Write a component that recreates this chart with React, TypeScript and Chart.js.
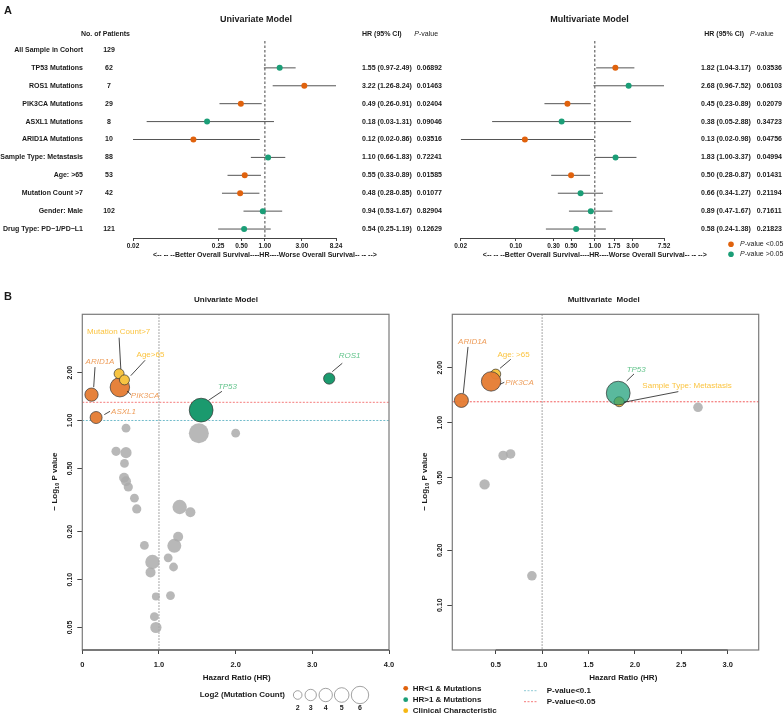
import React, { useEffect, useRef } from 'react';
import { Chart, registerables } from 'chart.js';

Chart.register(...registerables);

const FONT = '"Liberation Sans", Arial, Helvetica, sans-serif';
Chart.defaults.font.family = FONT;

// ---------------- Panel A : forest plots ----------------
const rowLabels = [
  'All Sample in Cohort', 'TP53 Mutations', 'ROS1 Mutations', 'PIK3CA Mutations', 'ASXL1 Mutations',
  'ARID1A Mutations', 'Sample Type: Metastasis', 'Age: >65', 'Mutation Count >7', 'Gender: Male',
  'Drug Type: PD\u22121/PD\u2212L1',
];
const patientCounts = [129, 62, 7, 29, 8, 10, 88, 53, 42, 102, 121];

const uniHR = [null, 1.55, 3.22, 0.49, 0.18, 0.12, 1.10, 0.55, 0.48, 0.94, 0.54];
const uniLo = [null, 0.97, 1.26, 0.26, 0.03, 0.02, 0.66, 0.33, 0.28, 0.53, 0.25];
const uniHi = [null, 2.49, 8.24, 0.91, 1.31, 0.86, 1.83, 0.89, 0.85, 1.67, 1.19];
const uniP = [null, 0.06892, 0.01463, 0.02404, 0.09046, 0.03516, 0.72241, 0.01585, 0.01077, 0.82904, 0.12629];

const multiHR = [null, 1.82, 2.68, 0.45, 0.38, 0.13, 1.83, 0.50, 0.66, 0.89, 0.58];
const multiLo = [null, 1.04, 0.96, 0.23, 0.05, 0.02, 1.00, 0.28, 0.34, 0.47, 0.24];
const multiHi = [null, 3.17, 7.52, 0.89, 2.88, 0.98, 3.37, 0.87, 1.27, 1.67, 1.38];
const multiP = [null, 0.03536, 0.06103, 0.02079, 0.34723, 0.04756, 0.04994, 0.01431, 0.21194, 0.71611, 0.21823];

const uniForestTicks = [0.02, 0.25, 0.5, 1, 3, 8.24];
const multiForestTicks = [0.02, 0.1, 0.3, 0.5, 1, 1.75, 3, 7.52];
const forestCaption = '<-- -- --Better Overall Survival----HR----Worse Overall Survival-- -- -->';

// ---------------- Panel B : bubble plots ----------------
const uniHitNames = ['ARID1A', 'ASXL1', 'PIK3CA', 'TP53', 'ROS1', 'Mutation Count>7', 'Age>65'];
const uniHitHR = [0.12, 0.18, 0.49, 1.55, 3.22, 0.48, 0.55];
const uniHitNegLogP = [1.454, 1.044, 1.619, 1.162, 1.835, 1.968, 1.8];
const uniHitLog2Count = [3.32, 3.0, 4.86, 5.95, 2.81, 2.5, 2.5];
const uniHitGroup = ['neg', 'neg', 'neg', 'pos', 'pos', 'clin', 'clin'];

const uniOtherHR = [0.57, 1.52, 2.0, 0.44, 0.57, 0.55, 0.545, 0.57, 0.6, 0.68, 0.71, 1.27, 1.41, 1.25, 0.81, 1.2, 0.915, 1.12, 1.19, 0.89, 0.96, 1.15, 0.94, 0.96];
const uniOtherNegLogP = [0.895, 0.832, 0.832, 0.64, 0.628, 0.537, 0.437, 0.415, 0.382, 0.325, 0.278, 0.286, 0.265, 0.186, 0.164, 0.163, 0.129, 0.137, 0.12, 0.111, 0.0784, 0.0794, 0.0585, 0.05];
const uniOtherLog2Count = [2.2, 5.0, 2.2, 2.3, 2.8, 2.2, 2.5, 2.5, 2.3, 2.2, 2.3, 3.6, 2.5, 2.5, 2.2, 3.5, 3.6, 2.2, 2.2, 2.5, 2.0, 2.2, 2.2, 2.8];

const multiHitNames = ['Age: >65', 'Sample Type: Metastasis', 'ARID1A', 'PIK3CA', 'TP53'];
const multiHitHR = [0.5, 1.83, 0.13, 0.45, 1.82];
const multiHitNegLogP = [1.844, 1.302, 1.323, 1.682, 1.451];
const multiHitLog2Count = [2.5, 2.5, 3.5, 4.86, 5.95];
const multiHitGroup = ['clin', 'clin', 'neg', 'neg', 'pos'];

const multiOtherHR = [2.68, 0.58, 0.66, 0.38, 0.89];
const multiOtherNegLogP = [1.214, 0.661, 0.674, 0.459, 0.145];
const multiOtherLog2Count = [2.4, 2.4, 2.4, 2.6, 2.4];

const uniBubbleXTicks = [0, 1, 2, 3, 4];
const uniBubbleXLabels = ['0', '1.0', '2.0', '3.0', '4.0'];
const multiBubbleXTicks = [0.5, 1, 1.5, 2, 2.5, 3];
const multiBubbleXLabels = ['0.5', '1.0', '1.5', '2.0', '2.5', '3.0'];
const uniBubbleYTicks = [0.05, 0.1, 0.2, 0.5, 1, 2];
const multiBubbleYTicks = [0.1, 0.2, 0.5, 1, 2];
const sizeLegendValues = [2, 3, 4, 5, 6];

// label placement (pixel offsets from the bubble centre): text centre, leader line start -> end
const uniLabelLayout: Record<string, number[]> = {
  'ARID1A': [8.5, -32.5, 3.5, -27.5, 2.2, -7.5],
  'ASXL1': [27.4, -6.2, 8.2, -2.9, 13.9, -6.2],
  'PIK3CA': [25.2, 8.1, 7.2, 3.8, 11.2, 7.5],
  'TP53': [26.3, -23.8, 20.8, -18.8, 7.4, -9.8],
  'ROS1': [20.4, -22.6, 13.1, -15.3, 3.1, -6.9],
  'Mutation Count>7': [-0.5, -42, 0, -36, 1.7, -4.8],
  'Age>65': [26, -24.6, 20.6, -19.6, 6.3, -4.2],
};
const multiLabelLayout: Record<string, number[]> = {
  'ARID1A': [11.1, -58.8, 6.6, -53.5, 1.9, -7.2],
  'Age: >65': [17.8, -19.1, 15, -14.8, 4.3, -5.8],
  'PIK3CA': [28.4, 1.3, 8.9, 2.9, 13.2, 0.9],
  'TP53': [18, -23.2, 15.8, -19.2, 8.5, -12.2],
  'Sample Type: Metastasis': [67.9, -16.1, 59.2, -10.1, 4.9, 0.5],
};

const ORANGE = '#E0620D';
const GREEN = '#1B9E77';
const YELLOW = '#F6B712';

function txt(ctx: CanvasRenderingContext2D, s: string, x: number, y: number, o: any = {}) {
  const size = o.size ?? 7;
  const weight = o.weight ?? 'bold';
  const style = o.style ?? 'normal';
  ctx.font = `${style} ${weight} ${size}px ${FONT}`;
  ctx.fillStyle = o.color ?? '#1a1a1a';
  ctx.textAlign = o.align ?? 'left';
  ctx.textBaseline = o.baseline ?? 'middle';
  ctx.fillText(s, x, y);
}

function pText(ctx: CanvasRenderingContext2D, rest: string, x: number, y: number, size: number, weight: string) {
  ctx.font = `italic ${weight} ${size}px ${FONT}`;
  ctx.fillStyle = '#1a1a1a';
  ctx.textAlign = 'left';
  ctx.textBaseline = 'middle';
  ctx.fillText('P', x, y);
  const w = ctx.measureText('P').width;
  ctx.font = `normal ${weight} ${size}px ${FONT}`;
  ctx.fillText(rest, x + w, y);
}

function forestConfig(side: 'uni' | 'multi') {
  const hr = side === 'uni' ? uniHR : multiHR;
  const lo = side === 'uni' ? uniLo : multiLo;
  const hi = side === 'uni' ? uniHi : multiHi;
  const pv = side === 'uni' ? uniP : multiP;
  const ticks = side === 'uni' ? uniForestTicks : multiForestTicks;
  const rows = hr.map((_, i) => i).filter((i) => hr[i] != null);
  const sig = (i: number) => (lo[i] as number) > 1 || (hi[i] as number) < 1;
  const geo = side === 'uni'
    ? { padding: { left: 133, right: 110, top: 41, bottom: 33 }, hrX: 362, pX: 416.7, hrHead: 362, pHead: 414.3 }
    : { padding: { left: 14.7, right: 120, top: 41, bottom: 33 }, hrX: 255, pX: 310.7, hrHead: 258.3, pHead: 304 };

  const datasets: any[] = [
    {
      type: 'scatter',
      data: rows.map((i) => ({ x: hr[i], y: i })),
      pointRadius: 3,
      pointBackgroundColor: rows.map((i) => (sig(i) ? ORANGE : GREEN)),
      pointBorderWidth: 0,
      order: 0,
    },
    ...rows.map((i) => ({
      type: 'line',
      data: [{ x: lo[i], y: i }, { x: hi[i], y: i }],
      borderColor: '#555',
      borderWidth: 1,
      pointRadius: 0,
      showLine: true,
      order: 1,
    })),
  ];

  const plugin = {
    id: 'forest_' + side,
    beforeDatasetsDraw(chart: any) {
      const { ctx, chartArea: a, scales: { x } } = chart;
      const px = x.getPixelForValue(1);
      ctx.save();
      ctx.strokeStyle = '#444';
      ctx.lineWidth = 1;
      ctx.setLineDash([2.5, 2]);
      ctx.beginPath();
      ctx.moveTo(px, a.top);
      ctx.lineTo(px, a.bottom);
      ctx.stroke();
      ctx.restore();
    },
    afterDraw(chart: any) {
      const { ctx, scales: { x, y } } = chart;
      const row = (i: number) => y.getPixelForValue(i);
      ctx.save();
      if (side === 'uni') {
        txt(ctx, 'A', 4, 14, { size: 11, baseline: 'alphabetic' });
        txt(ctx, 'Univariate Model', 256, 20, { size: 9, align: 'center' });
        txt(ctx, 'No. of Patients', 105.5, 34, { align: 'center' });
        rowLabels.forEach((l, i) => {
          txt(ctx, l, 83, row(i), { align: 'right' });
          txt(ctx, String(patientCounts[i]), 109, row(i), { align: 'center' });
        });
      } else {
        txt(ctx, 'Multivariate Model', 143.5, 20, { size: 9, align: 'center' });
        const legend = [['<0.05', ORANGE], ['>0.05', GREEN]];
        legend.forEach(([t, c], k) => {
          const yy = 244.3 + k * 10;
          ctx.fillStyle = c;
          ctx.beginPath();
          ctx.arc(285, yy, 2.8, 0, Math.PI * 2);
          ctx.fill();
          pText(ctx, '-value ' + t, 294, yy, 7, 'normal');
        });
      }
      txt(ctx, 'HR (95% CI)', geo.hrHead, 34);
      pText(ctx, '-value', geo.pHead, 34, 7, 'normal');
      rows.forEach((i) => {
        const s = `${(hr[i] as number).toFixed(2)} (${(lo[i] as number).toFixed(2)}-${(hi[i] as number).toFixed(2)})`;
        txt(ctx, s, geo.hrX, row(i));
        txt(ctx, (pv[i] as number).toFixed(5), geo.pX, row(i));
      });
      txt(ctx, forestCaption, x.getPixelForValue(1), 255, { align: 'center' });
      ctx.restore();
    },
  };

  return {
    type: 'scatter',
    data: { datasets },
    options: {
      responsive: false,
      animation: false,
      events: [],
      layout: { padding: geo.padding },
      plugins: { legend: { display: false }, tooltip: { enabled: false }, title: { display: false } },
      scales: {
        x: {
          type: 'logarithmic',
          min: ticks[0],
          max: ticks[ticks.length - 1],
          bounds: 'data',
          position: 'bottom',
          afterBuildTicks: (s: any) => { s.ticks = ticks.map((v) => ({ value: v })); },
          afterFit: (s: any) => { s.height = 14; s.paddingLeft = 0; s.paddingRight = 0; },
          ticks: {
            autoSkip: false, minRotation: 0, maxRotation: 0, padding: 1,
            font: { size: 6.5, weight: 'bold', family: FONT }, color: '#1a1a1a',
            callback: (v: any) => Number(v).toFixed(2),
          },
          grid: { display: true, drawOnChartArea: false, drawTicks: true, tickLength: 3, color: '#444', lineWidth: 1 },
          border: { display: true, color: '#444', width: 1 },
        },
        y: { type: 'linear', min: -0.5, max: 10.5, reverse: true, display: false },
      },
    },
    plugins: [plugin],
  } as any;
}

function drawYTitle(ctx: CanvasRenderingContext2D, cx: number, cy: number) {
  ctx.save();
  ctx.translate(cx, cy);
  ctx.rotate(-Math.PI / 2);
  const parts: [string, string, number][] = [
    ['\u2212 Log', `bold 8px ${FONT}`, 0],
    ['10', `bold 5.5px ${FONT}`, 2],
    [' P value', `bold 8px ${FONT}`, 0],
  ];
  let total = 0;
  parts.forEach(([s, f]) => { ctx.font = f; total += ctx.measureText(s).width; });
  let xx = -total / 2;
  ctx.fillStyle = '#1a1a1a';
  ctx.textBaseline = 'middle';
  ctx.textAlign = 'left';
  parts.forEach(([s, f, dy]) => {
    ctx.font = f;
    ctx.fillText(s, xx, dy);
    xx += ctx.measureText(s).width;
  });
  ctx.restore();
}

function bubbleConfig(side: 'uni' | 'multi') {
  const isUni = side === 'uni';
  const hitNames = isUni ? uniHitNames : multiHitNames;
  const hitHR = isUni ? uniHitHR : multiHitHR;
  const hitY = isUni ? uniHitNegLogP : multiHitNegLogP;
  const hitSize = isUni ? uniHitLog2Count : multiHitLog2Count;
  const hitGroup = isUni ? uniHitGroup : multiHitGroup;
  const otherHR = isUni ? uniOtherHR : multiOtherHR;
  const otherY = isUni ? uniOtherNegLogP : multiOtherNegLogP;
  const otherSize = isUni ? uniOtherLog2Count : multiOtherLog2Count;
  const xTicks = isUni ? uniBubbleXTicks : multiBubbleXTicks;
  const xLabels = isUni ? uniBubbleXLabels : multiBubbleXLabels;
  const yTicks = isUni ? uniBubbleYTicks : multiBubbleYTicks;
  const layout = isUni ? uniLabelLayout : multiLabelLayout;
  const fills: Record<string, string> = {
    neg: 'rgba(229,125,52,0.96)',
    pos: isUni ? 'rgba(27,154,110,1)' : 'rgba(27,158,119,0.72)',
    clin: 'rgba(247,196,66,1)',
  };
  const textColors: Record<string, string> = { neg: '#EE9E5C', pos: '#63C48C', clin: '#FBC441' };
  const refLines = isUni
    ? [{ p: 0.1, color: '#72BCCB' }, { p: 0.05, color: '#F47A7A' }]
    : [{ p: 0.05, color: '#F25C5C' }];
  const geo = isUni
    ? { padding: { left: 62.3, right: 13, top: 29.3, bottom: 45 }, title: 'Univariate Model', titleX: 226, yTitleX: 55, hrX: 236.7 }
    : { padding: { left: 40.3, right: 25.3, top: 29.3, bottom: 45 }, title: 'Multivariate  Model', titleX: 211.7, yTitleX: 33, hrX: 231.3 };

  const datasets: any[] = [
    {
      data: hitHR.map((x, i) => ({ x, y: hitY[i], r: 2 * hitSize[i] })),
      backgroundColor: hitGroup.map((g) => fills[g]),
      borderColor: '#333',
      borderWidth: 0.7,
      order: 0,
    },
    {
      data: otherHR.map((x, i) => ({ x, y: otherY[i], r: 2 * otherSize[i] })),
      backgroundColor: 'rgba(172,172,172,0.85)',
      borderWidth: 0,
      order: 1,
    },
  ];

  const plugin = {
    id: 'bubble_' + side,
    beforeDatasetsDraw(chart: any) {
      const { ctx, chartArea: a, scales: { x, y } } = chart;
      ctx.save();
      ctx.lineWidth = 1;
      ctx.setLineDash([1.5, 1.5]);
      ctx.strokeStyle = '#8a8a8a';
      const px = x.getPixelForValue(1);
      ctx.beginPath(); ctx.moveTo(px, a.top); ctx.lineTo(px, a.bottom); ctx.stroke();
      ctx.setLineDash([2, 1.5]);
      refLines.forEach((r) => {
        const py = y.getPixelForValue(-Math.log10(r.p));
        ctx.strokeStyle = r.color;
        ctx.beginPath(); ctx.moveTo(a.left, py); ctx.lineTo(a.right, py); ctx.stroke();
      });
      ctx.restore();
    },
    afterDatasetsDraw(chart: any) {
      const { ctx, scales: { x, y } } = chart;
      ctx.save();
      hitNames.forEach((name, i) => {
        const L = layout[name];
        if (!L) return;
        const cx = x.getPixelForValue(hitHR[i]);
        const cy = y.getPixelForValue(hitY[i]);
        ctx.strokeStyle = '#1a1a1a';
        ctx.lineWidth = 0.8;
        ctx.setLineDash([]);
        ctx.beginPath();
        ctx.moveTo(cx + L[2], cy + L[3]);
        ctx.lineTo(cx + L[4], cy + L[5]);
        ctx.stroke();
        const g = hitGroup[i];
        txt(ctx, name, cx + L[0], cy + L[1], {
          size: 8, weight: 'normal', style: g === 'clin' ? 'normal' : 'italic', align: 'center', color: textColors[g],
        });
      });
      ctx.restore();
    },
    afterDraw(chart: any) {
      const { ctx, chartArea: a, scales: { x } } = chart;
      ctx.save();
      ctx.strokeStyle = '#7a7a7a';
      ctx.lineWidth = 1.2;
      ctx.setLineDash([]);
      ctx.strokeRect(a.left, a.top, a.right - a.left, a.bottom - a.top);
      ctx.strokeStyle = '#444';
      ctx.lineWidth = 1;
      ctx.beginPath();
      ctx.moveTo(x.getPixelForValue(xTicks[0]), a.bottom);
      ctx.lineTo(x.getPixelForValue(xTicks[xTicks.length - 1]), a.bottom);
      ctx.stroke();
      if (isUni) txt(ctx, 'B', 4, 15, { size: 11, baseline: 'alphabetic' });
      txt(ctx, geo.title, geo.titleX, 14.3, { size: 8, align: 'center' });
      drawYTitle(ctx, geo.yTitleX, 196.5);
      txt(ctx, 'Hazard Ratio (HR)', geo.hrX, 393, { size: 8, align: 'center' });
      if (isUni) {
        txt(ctx, 'Log2 (Mutation Count)', 285, 410, { size: 8, align: 'right' });
        const cxs = [297.7, 310.7, 325.7, 341.7, 360];
        const rs = [4.3, 5.7, 6.7, 7.3, 8.7];
        sizeLegendValues.forEach((v, k) => {
          ctx.strokeStyle = '#8a8a8a';
          ctx.lineWidth = 0.8;
          ctx.beginPath();
          ctx.arc(cxs[k], 410, rs[k], 0, Math.PI * 2);
          ctx.stroke();
          txt(ctx, String(v), cxs[k], 423.3, { size: 7, align: 'center' });
        });
      } else {
        const items: [string, string][] = [
          ['HR<1 & Mutations', ORANGE], ['HR>1 & Mutations', GREEN], ['Clinical Characteristic', YELLOW],
        ];
        const ys = [403.3, 414.7, 425.7];
        items.forEach(([t, c], k) => {
          ctx.fillStyle = c;
          ctx.beginPath();
          ctx.arc(13.7, ys[k], 2.4, 0, Math.PI * 2);
          ctx.fill();
          txt(ctx, t, 20.7, ys[k], { size: 8 });
        });
        const lines: [string, string, number][] = [['P-value<0.1', '#8FCBD6', 405.7], ['P-value<0.05', '#F47A7A', 416.7]];
        lines.forEach(([t, c, yy]) => {
          ctx.strokeStyle = c;
          ctx.lineWidth = 1;
          ctx.setLineDash([2, 1.5]);
          ctx.beginPath(); ctx.moveTo(132, yy); ctx.lineTo(145.3, yy); ctx.stroke();
          ctx.setLineDash([]);
          txt(ctx, t, 154.7, yy, { size: 8 });
        });
      }
      ctx.restore();
    },
  };

  return {
    type: 'bubble',
    data: { datasets },
    options: {
      responsive: false,
      animation: false,
      events: [],
      layout: { padding: geo.padding },
      plugins: { legend: { display: false }, tooltip: { enabled: false }, title: { display: false } },
      scales: {
        x: {
          type: 'linear',
          min: isUni ? 0 : 0.032,
          max: isUni ? 4 : 3.334,
          bounds: 'data',
          afterBuildTicks: (s: any) => { s.ticks = xTicks.map((v) => ({ value: v })); },
          afterFit: (s: any) => { s.height = 20; s.paddingLeft = 0; s.paddingRight = 0; },
          ticks: {
            autoSkip: false, minRotation: 0, maxRotation: 0, padding: 6,
            font: { size: 7.5, weight: 'bold', family: FONT }, color: '#1a1a1a',
            callback: (v: any) => xLabels[xTicks.indexOf(Number(v))] ?? '',
          },
          grid: { display: true, drawOnChartArea: false, drawTicks: true, tickLength: 4, color: '#444' },
          border: { display: false },
        },
        y: {
          type: 'logarithmic',
          min: isUni ? 0.0361 : 0.0569,
          max: isUni ? 4.65 : 3.92,
          bounds: 'data',
          afterBuildTicks: (s: any) => { s.ticks = yTicks.map((v) => ({ value: v })); },
          afterFit: (s: any) => { s.width = 20; s.paddingTop = 0; s.paddingBottom = 0; },
          ticks: {
            autoSkip: false, minRotation: 90, maxRotation: 90, crossAlign: 'center', padding: 0,
            font: { size: 7, weight: 'bold', family: FONT }, color: '#1a1a1a',
            callback: (v: any) => Number(v).toFixed(2),
          },
          grid: { display: true, drawOnChartArea: false, drawTicks: true, tickLength: 5, color: '#444' },
          border: { display: false },
        },
      },
    },
    plugins: [plugin],
  } as any;
}

export default function App() {
  const fu = useRef<HTMLCanvasElement>(null);
  const fm = useRef<HTMLCanvasElement>(null);
  const bu = useRef<HTMLCanvasElement>(null);
  const bm = useRef<HTMLCanvasElement>(null);

  useEffect(() => {
    const charts = [
      new Chart(fu.current as HTMLCanvasElement, forestConfig('uni')),
      new Chart(fm.current as HTMLCanvasElement, forestConfig('multi')),
      new Chart(bm.current as HTMLCanvasElement, bubbleConfig('multi')),
      new Chart(bu.current as HTMLCanvasElement, bubbleConfig('uni')),
    ];
    return () => charts.forEach((c) => c.destroy());
  }, []);

  return (
    <div style={{ position: 'absolute', left: 0, top: 0, width: 784, height: 715, background: '#fff', overflow: 'hidden' }}>
      <canvas ref={fu} width={446} height={285} style={{ position: 'absolute', left: 0, top: 0, width: 446, height: 285 }} />
      <canvas ref={fm} width={338} height={285} style={{ position: 'absolute', left: 446, top: 0, width: 338, height: 285 }} />
      <canvas ref={bm} width={392} height={430} style={{ position: 'absolute', left: 392, top: 285, width: 392, height: 430 }} />
      <canvas ref={bu} width={402} height={430} style={{ position: 'absolute', left: 0, top: 285, width: 402, height: 430 }} />
    </div>
  );
}
